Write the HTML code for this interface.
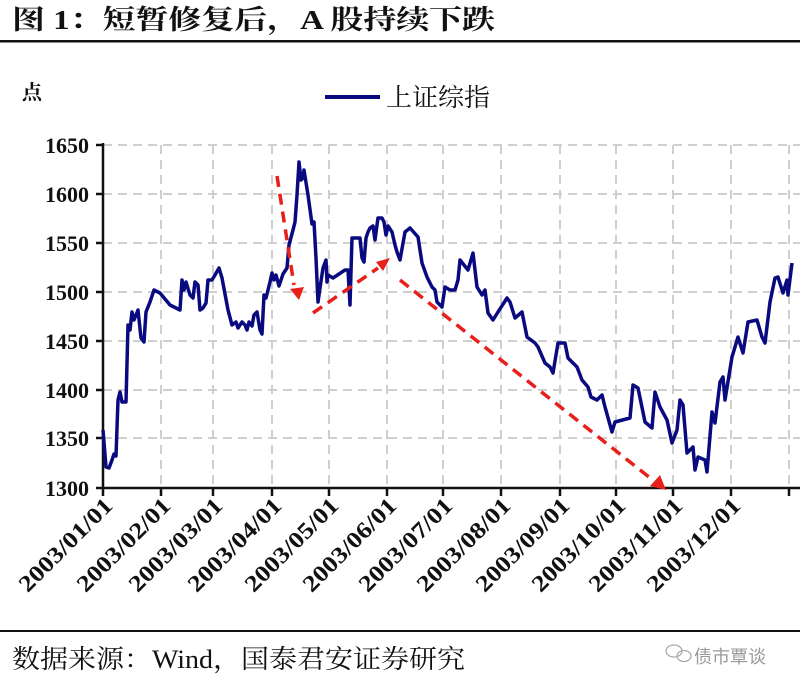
<!DOCTYPE html>
<html><head><meta charset="utf-8"><style>
html,body{margin:0;padding:0;background:#fff;}
svg{display:block;}
</style></head><body>
<svg width="800" height="686" viewBox="0 0 800 686" xmlns="http://www.w3.org/2000/svg">
<rect width="800" height="686" fill="#fff"/>
<text x="12" y="29" font-family="'Liberation Serif','Noto Serif CJK SC',serif" font-weight="bold" font-size="27" fill="#111" textLength="483" lengthAdjust="spacingAndGlyphs">图 1：短暂修复后，A 股持续下跌</text>
<rect x="0" y="40" width="800" height="2.5" fill="#111"/>
<text x="22" y="99" font-family="'Liberation Serif','Noto Serif CJK SC',serif" font-weight="bold" font-size="20" fill="#111">点</text>
<line x1="325" y1="97" x2="380" y2="97" stroke="#0a0a80" stroke-width="4"/>
<text x="386" y="106" font-family="'Liberation Serif','Noto Serif CJK SC',serif" font-size="25" fill="#111" textLength="104" lengthAdjust="spacingAndGlyphs">上证综指</text>
<g stroke="#cfcfcf" stroke-width="2" stroke-dasharray="9,6" fill="none">
<line x1="103" y1="145" x2="800" y2="145"/>
<line x1="103" y1="194" x2="800" y2="194"/>
<line x1="103" y1="243" x2="800" y2="243"/>
<line x1="103" y1="292" x2="800" y2="292"/>
<line x1="103" y1="341" x2="800" y2="341"/>
<line x1="103" y1="390" x2="800" y2="390"/>
<line x1="103" y1="438" x2="800" y2="438"/>
<line x1="161" y1="145" x2="161" y2="487"/>
<line x1="213" y1="145" x2="213" y2="487"/>
<line x1="272" y1="145" x2="272" y2="487"/>
<line x1="329" y1="145" x2="329" y2="487"/>
<line x1="387" y1="145" x2="387" y2="487"/>
<line x1="443" y1="145" x2="443" y2="487"/>
<line x1="501" y1="145" x2="501" y2="487"/>
<line x1="560" y1="145" x2="560" y2="487"/>
<line x1="616" y1="145" x2="616" y2="487"/>
<line x1="673" y1="145" x2="673" y2="487"/>
<line x1="731" y1="145" x2="731" y2="487"/>
<line x1="789" y1="145" x2="789" y2="487"/>
</g>
<g stroke="#111" stroke-width="2.5" fill="none">
<line x1="103" y1="143" x2="103" y2="489"/>
<line x1="102" y1="488" x2="800" y2="488"/>
<path d="M96 145H103M96 194H103M96 243H103M96 292H103M96 341H103M96 390H103M96 438H103M96 488H103"/>
<path d="M103 488V496M161 488V496M213 488V496M272 488V496M329 488V496M387 488V496M443 488V496M501 488V496M560 488V496M616 488V496M673 488V496M731 488V496M789 488V496"/>
</g>
<g font-family="'Liberation Serif',serif" font-weight="bold" font-size="22" fill="#111" text-anchor="end">
<text x="89" y="153">1650</text><text x="89" y="202">1600</text><text x="89" y="251">1550</text><text x="89" y="300">1500</text><text x="89" y="349">1450</text><text x="89" y="398">1400</text><text x="89" y="446">1350</text><text x="89" y="496">1300</text>
</g>
<g font-family="'Liberation Serif',serif" font-weight="bold" font-size="23" fill="#111" text-anchor="end" lengthAdjust="spacingAndGlyphs">
<text transform="translate(114,507) rotate(-45)" textLength="122" lengthAdjust="spacingAndGlyphs">2003/01/01</text>
<text transform="translate(172,507) rotate(-45)" textLength="122" lengthAdjust="spacingAndGlyphs">2003/02/01</text>
<text transform="translate(224,507) rotate(-45)" textLength="122" lengthAdjust="spacingAndGlyphs">2003/03/01</text>
<text transform="translate(283,507) rotate(-45)" textLength="122" lengthAdjust="spacingAndGlyphs">2003/04/01</text>
<text transform="translate(340,507) rotate(-45)" textLength="122" lengthAdjust="spacingAndGlyphs">2003/05/01</text>
<text transform="translate(398,507) rotate(-45)" textLength="122" lengthAdjust="spacingAndGlyphs">2003/06/01</text>
<text transform="translate(454,507) rotate(-45)" textLength="122" lengthAdjust="spacingAndGlyphs">2003/07/01</text>
<text transform="translate(512,507) rotate(-45)" textLength="122" lengthAdjust="spacingAndGlyphs">2003/08/01</text>
<text transform="translate(571,507) rotate(-45)" textLength="122" lengthAdjust="spacingAndGlyphs">2003/09/01</text>
<text transform="translate(627,507) rotate(-45)" textLength="122" lengthAdjust="spacingAndGlyphs">2003/10/01</text>
<text transform="translate(684,507) rotate(-45)" textLength="122" lengthAdjust="spacingAndGlyphs">2003/11/01</text>
<text transform="translate(742,507) rotate(-45)" textLength="122" lengthAdjust="spacingAndGlyphs">2003/12/01</text>
</g>
<polyline fill="none" stroke="#0a0a80" stroke-width="3.5" stroke-linejoin="round" points="103,430 106,467 109,468 112,460 114,454 116,456 118,400 120,392 122,402 126,402 128,325 130,330 132,312 134,320 138,310 141,338 144,342 146,312 150,302 154,290 160,293 170,305 180,310 182,280 184,290 186,282 190,295 193,298 195,282 198,285 200,310 203,308 206,303 208,280 212,280 215,275 219,268 222,278 228,310 232,325 236,322 238,328 242,322 245,325 247,330 249,322 252,326 254,315 257,312 260,330 262,334 264,295 266,298 270,282 272,273 274,280 276,275 279,286 283,274 287,268 289,245 293,230 295,222 297,195 299,162 301,180 303,178 304,170 308,195 312,224 314,222 316,258 318,302 320,288 323,268 326,260 327,282 328,275 333,278 345,270 348,270 350,305 352,238 355,238 360,238 362,258 364,262 366,238 368,232 370,228 373,226 375,240 377,225 378,218 382,218 384,222 386,235 388,226 392,232 395,245 397,252 400,260 405,232 410,228 418,237 422,263 427,277 432,287 435,290 437,302 442,307 445,287 450,290 455,290 458,280 460,260 468,270 473,253 477,287 482,295 485,290 488,313 493,320 498,312 507,298 510,302 515,318 522,312 527,337 535,343 538,347 545,363 550,367 553,373 558,343 565,343 568,358 577,367 582,380 588,387 591,397 597,400 602,395 605,407 612,432 615,422 630,418 633,385 638,388 645,422 652,428 655,392 660,407 667,420 672,443 677,430 680,400 683,405 687,453 693,447 695,470 698,457 705,460 707,472 712,412 715,423 720,382 723,377 725,400 732,357 738,337 743,353 748,322 757,320 762,337 765,343 770,302 775,278 778,277 783,293 787,280 788,295 792,263"/>
<g stroke="#e8201c" stroke-width="3.5" stroke-dasharray="11,7" fill="none">
<line x1="277" y1="176" x2="294" y2="285"/>
<line x1="313" y1="313" x2="378" y2="268"/>
<line x1="400" y1="280" x2="654" y2="481"/>
</g>
<g fill="#e8201c">
<polygon points="290,289 304,287 299,300"/>
<polygon points="376,262 390,258 383,271"/>
<polygon points="650,486 660,475 666,490"/>
</g>
<rect x="0" y="630" width="800" height="2" fill="#111"/>
<text x="12" y="668" font-family="'Liberation Serif','Noto Serif CJK SC',serif" font-size="26" fill="#111" textLength="453" lengthAdjust="spacingAndGlyphs">数据来源：Wind，国泰君安证券研究</text>
<g fill="none" stroke="#aaa" stroke-width="1.3"><ellipse cx="674" cy="651" rx="8" ry="6"/><ellipse cx="684" cy="656" rx="7" ry="5.5"/></g>
<text x="694" y="663" font-family="'Noto Sans CJK SC',sans-serif" font-size="18" fill="#999">债市覃谈</text>
</svg>
</body></html>
